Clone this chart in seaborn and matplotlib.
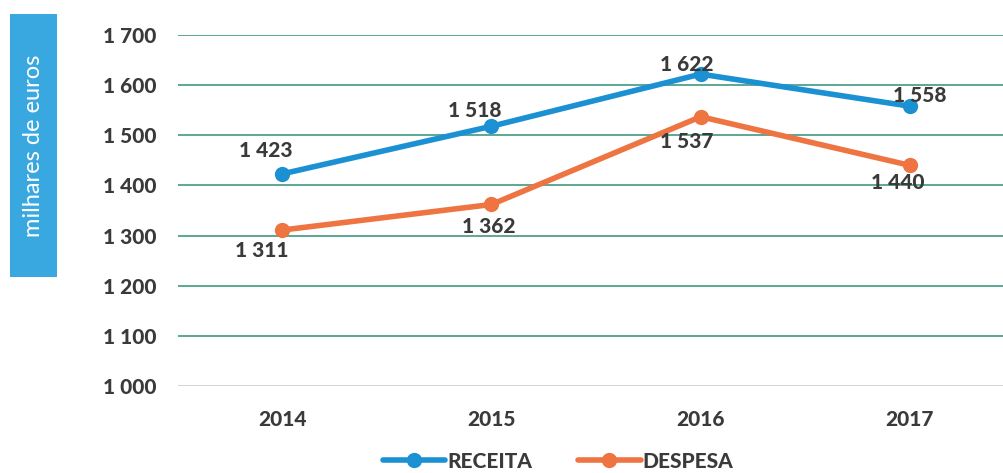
import matplotlib.pyplot as plt
import seaborn as sns
import pandas as pd

# data
years = ["2014", "2015", "2016", "2017"]
receita = [1423, 1518, 1622, 1558]
despesa = [1311, 1362, 1537, 1440]
y_ticks = [1000, 1100, 1200, 1300, 1400, 1500, 1600, 1700]

sns.set_style("white")
plt.rcParams['font.family'] = ['Lato', 'DejaVu Sans']

df = pd.DataFrame({
    "ano": years * 2,
    "valor": receita + despesa,
    "serie": ["RECEITA"] * 4 + ["DESPESA"] * 4,
})

blue = "#1b90d2"
orange = "#ee7442"
text_c = "#3a3a3a"
weight = "black"


def fmt(v):
    return f"{v // 1000} {v % 1000:03d}"


fig = plt.figure(figsize=(10.04, 4.73), dpi=100)
ax = fig.add_axes([0.177, 0.184, 0.823, 0.742])

sns.lineplot(data=df, x="ano", y="valor", hue="serie",
             palette={"RECEITA": blue, "DESPESA": orange},
             marker="o", markersize=11, markeredgewidth=0, linewidth=4,
             ax=ax, clip_on=False)

ax.set_ylim(1000, 1700)
ax.set_xlim(-0.5, 3.45)
ax.set_yticks(y_ticks)
ax.set_yticklabels([fmt(v) for v in y_ticks])
ax.grid(axis="y", color="#2f8f78", linewidth=1.1)
ax.get_ygridlines()[0].set_color("#c8c8c8")
ax.set_axisbelow(True)
for s in ax.spines.values():
    s.set_visible(False)
ax.tick_params(length=0, labelsize=15, labelcolor=text_c)
ax.tick_params(axis="y", pad=15)
ax.tick_params(axis="x", pad=17)
for lab in ax.get_xticklabels() + ax.get_yticklabels():
    lab.set_fontweight(weight)
ax.set_xlabel("")
ax.set_ylabel("")

# data labels
r_off = [(-12, 17), (-12, 11), (-10, 7), (7, 8)]
d_off = [(-15, -15), (-2, -16), (-10, -18), (-9, -12)]
for i, v in enumerate(receita):
    ax.annotate(fmt(v), (i, v), xytext=r_off[i], textcoords="offset points",
                ha="center", va="center", fontsize=15, fontweight=weight, color=text_c)
for i, v in enumerate(despesa):
    ax.annotate(fmt(v), (i, v), xytext=d_off[i], textcoords="offset points",
                ha="center", va="center", fontsize=15, fontweight=weight, color=text_c)

# legend
handles, labels = ax.get_legend_handles_labels()
ax.get_legend().remove()
fig.legend(handles, labels, loc="center", bbox_to_anchor=(0.556, 0.025), ncol=2,
           frameon=False, handlelength=3.0, handletextpad=0.1, columnspacing=2.2,
           labelcolor=text_c, prop={"weight": weight, "size": 15})

# y label box
fig.patches.append(plt.Rectangle((0.010, 0.415), 0.047, 0.555, transform=fig.transFigure,
                                 facecolor="#3aa8e0", edgecolor="none"))
fig.text(0.0335, 0.692, "milhares de euros", rotation=90, ha="center", va="center",
         color="white", fontsize=17)

fig.savefig("out.png", dpi=100)
